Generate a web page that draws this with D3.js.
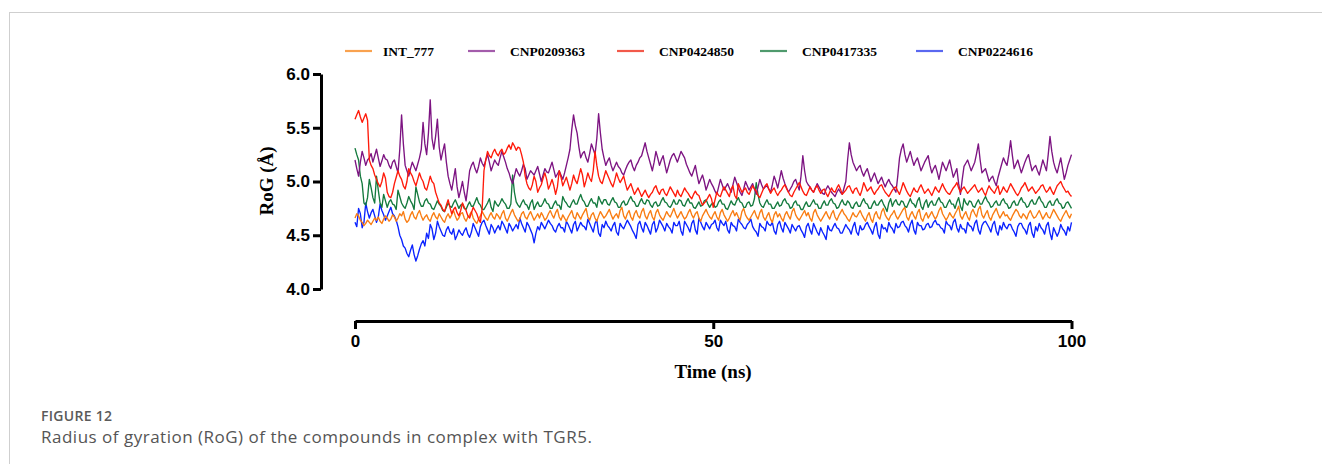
<!DOCTYPE html>
<html>
<head>
<meta charset="utf-8">
<script src="https://cdn.jsdelivr.net/npm/d3@7"></script>
<style>
  html, body { margin: 0; padding: 0; background: #fff; }
  svg { display: block; }
</style>
</head>
<body>
<svg id="chart" width="1322" height="464"></svg>
<script>
// Time axis: one frame every 0.25 ns from 0 to 100 ns
const timeStep = 0.25;
const timeTicks = [0, 50, 100];
const rogTicks = [4.0, 4.5, 5.0, 5.5, 6.0];
const seriesNames = ["INT_777", "CNP0209363", "CNP0424850", "CNP0417335", "CNP0224616"];

// Radius of gyration (Å) per frame, 20 frames (5 ns) per row
const int777 = [
  4.66,4.70,4.68,4.64,4.62,4.59,4.61,4.64,4.62,4.60,4.63,4.66,4.64,4.67,4.63,4.61,4.65,4.68,4.66,4.63,
  4.65,4.69,4.67,4.63,4.66,4.70,4.68,4.72,4.65,4.62,4.64,4.69,4.72,4.67,4.65,4.70,4.73,4.68,4.64,4.67,
  4.69,4.65,4.63,4.68,4.71,4.67,4.65,4.70,4.67,4.64,4.62,4.67,4.70,4.66,4.69,4.73,4.68,4.64,4.66,4.70,
  4.71,4.66,4.63,4.67,4.69,4.72,4.66,4.63,4.61,4.65,4.68,4.72,4.69,4.66,4.64,4.68,4.71,4.67,4.65,4.70,
  4.68,4.65,4.70,4.73,4.66,4.63,4.67,4.71,4.74,4.69,4.66,4.63,4.65,4.70,4.72,4.67,4.65,4.69,4.72,4.68,
  4.64,4.67,4.70,4.66,4.71,4.68,4.64,4.66,4.70,4.73,4.69,4.66,4.71,4.74,4.67,4.64,4.69,4.66,4.63,4.67,
  4.70,4.73,4.67,4.65,4.71,4.68,4.65,4.69,4.72,4.75,4.67,4.64,4.69,4.71,4.66,4.63,4.68,4.72,4.69,4.66,
  4.68,4.71,4.74,4.69,4.65,4.68,4.70,4.66,4.73,4.76,4.68,4.65,4.70,4.73,4.67,4.64,4.70,4.73,4.68,4.66,
  4.72,4.75,4.68,4.65,4.70,4.73,4.67,4.64,4.71,4.74,4.69,4.66,4.64,4.68,4.72,4.69,4.67,4.71,4.75,4.70,
  4.66,4.69,4.72,4.68,4.65,4.67,4.71,4.74,4.69,4.66,4.70,4.72,4.66,4.63,4.68,4.71,4.74,4.70,4.67,4.65,
  4.69,4.72,4.67,4.64,4.71,4.74,4.69,4.66,4.63,4.66,4.70,4.73,4.68,4.71,4.67,4.64,4.72,4.75,4.69,4.66,
  4.64,4.67,4.70,4.73,4.68,4.65,4.71,4.74,4.67,4.64,4.68,4.71,4.65,4.62,4.69,4.72,4.67,4.70,4.66,4.63,
  4.69,4.72,4.68,4.65,4.72,4.75,4.69,4.66,4.64,4.67,4.70,4.73,4.68,4.71,4.66,4.63,4.71,4.74,4.69,4.66,
  4.63,4.66,4.69,4.72,4.68,4.65,4.70,4.73,4.67,4.64,4.68,4.71,4.74,4.70,4.68,4.65,4.63,4.67,4.71,4.68,
  4.67,4.70,4.73,4.69,4.66,4.63,4.68,4.71,4.65,4.62,4.69,4.72,4.67,4.65,4.72,4.75,4.69,4.66,4.64,4.68,
  4.70,4.73,4.68,4.65,4.68,4.71,4.74,4.76,4.67,4.64,4.69,4.72,4.68,4.65,4.71,4.74,4.66,4.63,4.68,4.71,
  4.66,4.69,4.72,4.68,4.65,4.68,4.73,4.76,4.70,4.67,4.64,4.67,4.71,4.68,4.66,4.70,4.73,4.77,4.68,4.65,
  4.69,4.72,4.67,4.64,4.71,4.74,4.70,4.67,4.74,4.77,4.69,4.66,4.70,4.73,4.67,4.64,4.69,4.72,4.75,4.70,
  4.66,4.69,4.72,4.68,4.69,4.66,4.64,4.68,4.71,4.74,4.72,4.68,4.66,4.70,4.68,4.65,4.70,4.73,4.69,4.66,
  4.67,4.70,4.73,4.69,4.65,4.68,4.71,4.67,4.66,4.70,4.74,4.71,4.68,4.65,4.63,4.67,4.70,4.73,4.69,4.66,
  4.70
];

const cnp0209363 = [
  5.20,5.12,5.05,5.18,5.28,5.22,5.15,5.20,5.22,5.26,5.18,5.24,5.30,5.22,5.14,5.19,5.25,5.21,5.20,5.15,
  5.12,5.18,5.20,5.14,5.08,5.30,5.62,5.35,5.15,5.10,5.05,5.12,5.18,5.14,5.10,5.16,5.22,5.30,5.55,5.35,
  5.25,5.45,5.76,5.40,5.30,5.42,5.58,5.32,5.20,5.28,5.35,5.18,5.05,4.98,4.92,5.02,5.12,4.95,4.85,4.92,
  5.00,4.90,4.82,4.95,5.10,5.15,5.18,5.12,5.08,5.14,5.22,5.17,5.14,5.20,5.25,5.18,5.10,5.15,5.20,5.17,
  5.15,5.22,5.28,5.23,5.18,5.12,5.08,5.02,4.98,5.05,5.12,5.08,5.05,5.10,5.16,5.12,5.02,5.06,5.10,5.08,
  5.06,5.10,5.14,5.07,5.00,5.06,5.12,5.09,5.08,5.13,5.18,5.11,5.04,5.07,5.10,5.06,5.02,5.08,5.15,5.22,
  5.30,5.48,5.62,5.52,5.45,5.32,5.22,5.26,5.28,5.22,5.18,5.26,5.35,5.30,5.25,5.40,5.63,5.45,5.30,5.22,
  5.15,5.19,5.22,5.15,5.10,5.14,5.18,5.14,5.12,5.08,5.06,5.11,5.15,5.18,5.20,5.14,5.10,5.15,5.18,5.22,
  5.24,5.30,5.36,5.28,5.22,5.16,5.10,5.18,5.28,5.22,5.15,5.20,5.24,5.16,5.08,5.14,5.20,5.24,5.26,5.22,
  5.18,5.23,5.28,5.25,5.22,5.16,5.12,5.08,5.05,5.10,5.15,5.06,4.98,5.02,5.06,5.00,4.92,4.97,5.02,4.98,
  4.95,4.91,4.88,4.95,5.02,4.97,4.92,4.95,4.98,4.94,4.90,4.97,5.04,4.99,4.94,4.90,4.87,4.93,5.00,4.96,
  4.92,4.95,4.98,4.93,4.88,4.95,5.02,4.97,4.93,4.95,4.96,4.93,4.90,4.97,5.05,5.00,4.94,5.02,5.10,5.03,
  4.98,4.94,4.90,4.93,4.96,5.00,5.02,4.97,4.92,5.05,5.24,5.10,5.00,4.97,4.95,4.92,4.90,4.94,4.98,4.95,
  4.92,4.89,4.88,4.93,4.96,4.93,4.90,4.88,4.86,4.90,4.93,4.90,4.88,4.94,5.00,5.20,5.36,5.25,5.18,5.14,
  5.10,5.13,5.15,5.09,5.05,5.09,5.12,5.06,5.00,5.04,5.08,5.03,4.98,5.01,5.04,4.99,4.95,4.99,5.02,4.98,
  4.96,4.93,4.90,5.05,5.22,5.30,5.35,5.25,5.18,5.23,5.28,5.21,5.15,5.19,5.22,5.16,5.10,5.14,5.18,5.21,
  5.24,5.15,5.08,5.12,5.15,5.09,5.02,5.10,5.18,5.14,5.10,5.15,5.20,5.12,5.04,5.08,5.12,4.98,4.88,5.02,
  5.14,5.17,5.20,5.15,5.10,5.14,5.18,5.26,5.35,5.20,5.08,5.10,5.12,5.06,5.00,5.03,5.05,5.00,4.96,5.04,
  5.10,5.16,5.22,5.18,5.15,5.25,5.38,5.24,5.12,5.16,5.20,5.14,5.08,5.13,5.18,5.22,5.25,5.17,5.10,5.13,
  5.15,5.10,5.06,5.13,5.20,5.15,5.10,5.25,5.42,5.28,5.18,5.12,5.08,5.15,5.22,5.12,5.02,5.08,5.15,5.20,
  5.25
];

const cnp0424850 = [
  5.58,5.62,5.66,5.60,5.55,5.59,5.63,5.57,5.20,5.15,5.12,5.06,5.02,4.98,4.95,5.00,5.08,5.03,4.90,4.86,
  4.85,4.90,4.98,5.04,5.10,5.05,5.02,4.96,4.93,5.00,5.12,5.08,5.05,5.00,4.96,5.02,5.08,5.03,5.00,4.94,
  4.92,4.98,5.05,5.00,4.98,4.90,4.85,4.80,4.78,4.74,4.72,4.78,4.83,4.76,4.70,4.74,4.76,4.71,4.68,4.73,
  4.80,4.76,4.73,4.68,4.66,4.71,4.76,4.73,4.70,4.65,4.62,4.75,5.10,5.20,5.28,5.24,5.22,5.27,5.30,5.26,
  5.24,5.28,5.30,5.25,5.27,5.31,5.34,5.30,5.36,5.33,5.29,5.32,5.31,5.25,5.18,5.05,4.98,4.94,4.92,4.97,
  5.05,5.00,4.90,4.94,4.97,5.03,5.08,5.02,4.93,4.97,5.02,4.96,4.88,4.95,5.10,5.04,4.96,5.00,5.04,4.98,
  4.92,4.98,5.06,5.01,4.98,5.05,5.12,5.06,4.95,5.01,5.08,5.03,5.00,5.10,5.28,5.15,5.05,5.00,4.98,5.04,
  5.10,5.06,5.02,4.98,4.95,5.01,5.08,5.03,4.99,5.02,5.05,4.98,4.92,4.95,4.98,4.93,4.88,4.91,4.94,4.90,
  4.86,4.89,4.92,4.88,4.85,4.88,4.90,4.94,4.96,4.91,4.88,4.92,4.93,4.89,4.87,4.91,4.95,4.92,4.89,4.86,
  4.92,4.88,4.86,4.90,4.94,4.91,4.89,4.86,4.84,4.88,4.91,4.88,4.87,4.82,4.78,4.80,4.82,4.85,4.88,4.84,
  4.76,4.83,4.90,4.87,4.86,4.91,4.95,4.92,4.89,4.86,4.93,4.96,4.87,4.84,4.98,4.94,4.90,4.92,4.94,4.90,
  4.88,4.92,4.96,4.93,4.91,4.87,4.85,4.89,4.93,4.96,4.98,4.93,4.89,4.92,4.94,4.90,4.87,4.90,4.92,4.95,
  4.97,4.93,4.90,4.87,4.86,4.90,4.93,4.96,4.99,4.95,4.91,4.88,4.87,4.91,4.95,4.92,4.90,4.94,4.96,4.92,
  4.89,4.92,4.93,4.89,4.86,4.90,4.94,4.91,4.90,4.94,4.97,4.93,4.88,4.90,4.92,4.95,4.96,4.92,4.89,4.93,
  4.94,4.90,4.87,4.92,4.99,4.95,4.91,4.93,4.95,4.91,4.88,4.91,4.93,4.96,4.97,4.93,4.90,4.88,4.86,4.89,
  4.92,4.94,4.95,4.91,4.88,4.93,4.99,4.95,4.91,4.88,4.86,4.90,4.94,4.91,4.90,4.94,4.97,4.93,4.89,4.91,
  4.93,4.90,4.87,4.91,4.95,4.92,4.90,4.94,4.98,4.94,4.91,4.89,4.88,4.91,4.94,4.96,4.99,4.94,4.90,4.93,
  4.95,4.92,4.89,4.91,4.93,4.95,4.97,4.93,4.90,4.92,4.94,4.90,4.87,4.92,4.96,4.93,4.91,4.89,4.93,4.96,
  4.88,4.91,4.95,4.92,4.90,4.94,4.98,4.95,4.92,4.89,4.87,4.90,4.94,4.96,4.99,4.95,4.91,4.93,4.95,4.92,
  4.89,4.91,4.93,4.96,4.97,4.93,4.90,4.92,4.95,4.91,4.88,4.92,4.96,4.98,5.00,4.96,4.93,4.90,4.91,4.88,
  4.86
];

const cnp0417335 = [
  5.31,5.25,5.20,5.05,4.98,4.80,4.78,4.85,5.02,4.94,4.85,4.80,5.05,4.92,4.80,4.76,4.88,4.82,4.76,4.81,
  4.83,4.79,4.78,4.74,4.92,4.86,4.80,4.77,4.75,4.80,4.86,4.82,4.79,4.74,4.95,4.88,4.81,4.77,4.77,4.82,
  4.84,4.80,4.79,4.75,4.74,4.78,4.82,4.79,4.77,4.73,4.72,4.76,4.80,4.77,4.76,4.80,4.83,4.79,4.75,4.78,
  4.79,4.75,4.74,4.78,4.81,4.77,4.77,4.81,4.85,4.80,4.78,4.74,4.74,4.77,4.80,4.84,4.76,4.72,4.82,4.79,
  4.77,4.80,4.84,4.81,4.79,4.75,4.75,4.79,5.06,4.90,4.81,4.78,4.76,4.80,4.83,4.79,4.78,4.74,4.80,4.83,
  4.74,4.78,4.81,4.77,4.77,4.80,4.84,4.80,4.79,4.75,4.75,4.79,4.82,4.78,4.78,4.74,4.86,4.82,4.80,4.77,
  4.76,4.80,4.83,4.79,4.79,4.84,4.88,4.83,4.81,4.77,4.77,4.81,4.84,4.80,4.80,4.76,4.86,4.82,4.79,4.83,
  4.83,4.79,4.78,4.82,4.85,4.81,4.80,4.76,4.76,4.80,4.82,4.78,4.79,4.83,4.86,4.82,4.81,4.77,4.77,4.81,
  4.84,4.80,4.79,4.83,4.82,4.78,4.76,4.80,4.81,4.77,4.78,4.82,4.85,4.81,4.80,4.77,4.76,4.79,4.83,4.79,
  4.79,4.83,4.82,4.78,4.77,4.81,4.84,4.80,4.80,4.76,4.75,4.78,4.81,4.77,4.78,4.82,4.83,4.79,4.76,4.79,
  4.80,4.76,4.77,4.81,4.83,4.79,4.79,4.75,4.74,4.78,4.82,4.79,4.78,4.82,4.85,4.81,4.80,4.76,4.76,4.80,
  4.81,4.77,4.78,4.84,4.99,4.88,4.80,4.77,4.76,4.80,4.83,4.79,4.79,4.75,4.75,4.78,4.81,4.77,4.78,4.82,
  4.84,4.80,4.79,4.75,4.76,4.80,4.82,4.78,4.78,4.74,4.74,4.78,4.81,4.77,4.77,4.80,4.83,4.79,4.79,4.75,
  4.75,4.79,4.82,4.78,4.78,4.82,4.84,4.80,4.79,4.75,4.76,4.80,4.83,4.79,4.78,4.82,4.80,4.76,4.75,4.79,
  4.81,4.77,4.77,4.81,4.84,4.80,4.79,4.75,4.75,4.79,4.82,4.78,4.78,4.81,4.83,4.79,4.76,4.72,4.80,4.84,
  4.77,4.81,4.83,4.79,4.78,4.82,4.81,4.77,4.76,4.80,4.84,4.80,4.79,4.76,4.82,4.85,4.77,4.74,4.80,4.83,
  4.76,4.80,4.82,4.78,4.78,4.82,4.85,4.81,4.80,4.76,4.76,4.80,4.83,4.79,4.79,4.75,4.81,4.85,4.77,4.73,
  4.84,4.80,4.78,4.82,4.81,4.77,4.76,4.80,4.83,4.79,4.79,4.83,4.86,4.82,4.80,4.76,4.77,4.80,4.82,4.78,
  4.78,4.82,4.84,4.80,4.79,4.75,4.76,4.80,4.82,4.78,4.78,4.82,4.85,4.81,4.80,4.76,4.77,4.81,4.83,4.79,
  4.79,4.83,4.86,4.82,4.80,4.76,4.76,4.80,4.82,4.78,4.78,4.82,4.84,4.80,4.79,4.75,4.76,4.80,4.81,4.78,
  4.75
];

const cnp0224616 = [
  4.62,4.58,4.75,4.70,4.57,4.62,4.80,4.72,4.66,4.71,4.74,4.68,4.62,4.67,4.79,4.73,4.69,4.64,4.68,4.72,
  4.76,4.70,4.68,4.64,4.58,4.50,4.46,4.40,4.38,4.33,4.30,4.36,4.41,4.32,4.26,4.31,4.37,4.42,4.45,4.40,
  4.52,4.47,4.60,4.56,4.46,4.52,4.63,4.58,4.54,4.50,4.49,4.55,4.58,4.53,4.51,4.56,4.46,4.50,4.55,4.52,
  4.50,4.54,4.57,4.51,4.48,4.53,4.61,4.57,4.53,4.49,4.58,4.62,4.64,4.59,4.55,4.51,4.60,4.57,4.52,4.56,
  4.59,4.55,4.63,4.60,4.56,4.52,4.61,4.58,4.54,4.57,4.60,4.56,4.66,4.61,4.57,4.53,4.62,4.59,4.55,4.51,
  4.43,4.52,4.58,4.55,4.62,4.59,4.56,4.60,4.64,4.61,4.59,4.55,4.53,4.58,4.61,4.57,4.57,4.53,4.63,4.60,
  4.56,4.52,4.60,4.63,4.54,4.58,4.62,4.59,4.58,4.55,4.65,4.61,4.57,4.53,4.61,4.64,4.52,4.49,4.60,4.57,
  4.63,4.59,4.57,4.54,4.59,4.62,4.53,4.50,4.61,4.58,4.56,4.60,4.64,4.61,4.58,4.54,4.51,4.47,4.60,4.63,
  4.57,4.53,4.62,4.59,4.55,4.51,4.60,4.63,4.53,4.57,4.64,4.61,4.58,4.54,4.61,4.58,4.56,4.52,4.62,4.59,
  4.59,4.63,4.54,4.50,4.63,4.60,4.57,4.53,4.61,4.64,4.55,4.51,4.66,4.62,4.58,4.55,4.62,4.59,4.56,4.60,
  4.61,4.64,4.57,4.54,4.64,4.61,4.59,4.63,4.55,4.52,4.62,4.59,4.58,4.54,4.65,4.62,4.60,4.57,4.56,4.60,
  4.62,4.65,4.58,4.55,4.53,4.49,4.61,4.58,4.57,4.54,4.63,4.60,4.59,4.62,4.54,4.51,4.60,4.63,4.57,4.53,
  4.62,4.59,4.56,4.52,4.60,4.57,4.54,4.58,4.59,4.55,4.52,4.48,4.58,4.61,4.55,4.51,4.61,4.57,4.53,4.50,
  4.57,4.53,4.50,4.46,4.59,4.55,4.54,4.58,4.61,4.57,4.56,4.52,4.52,4.56,4.60,4.57,4.55,4.51,4.58,4.62,
  4.53,4.50,4.59,4.55,4.56,4.60,4.62,4.58,4.55,4.51,4.58,4.62,4.51,4.47,4.60,4.56,4.57,4.53,4.62,4.58,
  4.56,4.52,4.61,4.57,4.58,4.62,4.63,4.59,4.57,4.53,4.60,4.64,4.55,4.51,4.62,4.59,4.59,4.55,4.56,4.60,
  4.61,4.57,4.58,4.62,4.64,4.60,4.60,4.57,4.56,4.52,4.63,4.60,4.59,4.55,4.62,4.65,4.57,4.53,4.60,4.56,
  4.56,4.52,4.62,4.59,4.58,4.54,4.61,4.64,4.55,4.51,4.59,4.62,4.63,4.60,4.57,4.53,4.60,4.63,4.54,4.50,
  4.59,4.55,4.62,4.58,4.56,4.60,4.60,4.56,4.53,4.49,4.58,4.61,4.61,4.57,4.55,4.51,4.59,4.62,4.52,4.48,
  4.58,4.54,4.61,4.57,4.55,4.51,4.59,4.62,4.52,4.46,4.57,4.53,4.49,4.53,4.60,4.56,4.54,4.50,4.58,4.54,
  4.62
];

const lineColors = ["#f97c12", "#7d1482", "#ff1a0a", "#147a3e", "#0a22ff"];
const legendColors = ["#f9a24f", "#a35cab", "#f2594a", "#4f9a6d", "#5a68f0"];
const seriesValues = [int777, cnp0209363, cnp0424850, cnp0417335, cnp0224616];

const svg = d3.select("#chart");

// Panel frame (top and left rules)
svg.append("line").attr("x1", 9).attr("x2", 1322).attr("y1", 12.5).attr("y2", 12.5)
  .attr("stroke", "#cfcfcf").attr("stroke-width", 1);
svg.append("line").attr("x1", 9.5).attr("x2", 9.5).attr("y1", 12).attr("y2", 464)
  .attr("stroke", "#cfcfcf").attr("stroke-width", 1);

const x = d3.scaleLinear().domain([0, 100]).range([355, 1071.5]);
const y = d3.scaleLinear().domain([4, 6]).range([289, 74]);

// Traces, drawn back to front
const drawOrder = [4, 0, 3, 1, 2];
const line = d3.line()
  .x((d, i) => x(i * timeStep))
  .y(d => y(d));

const traces = svg.append("g").attr("fill", "none");
drawOrder.forEach(k => {
  traces.append("path")
    .datum(seriesValues[k])
    .attr("d", line)
    .attr("stroke", lineColors[k])
    .attr("stroke-width", 1.35)
    .attr("stroke-linejoin", "round");
});

// Y axis
const yAxis = svg.append("g")
  .attr("transform", "translate(321,0)")
  .call(d3.axisLeft(y).tickValues(rogTicks).tickFormat(d3.format(".1f"))
    .tickSize(8).tickSizeOuter(0).tickPadding(3));

// X axis, offset below the plot
const xAxis = svg.append("g")
  .attr("transform", "translate(0,321)")
  .call(d3.axisBottom(x).tickValues(timeTicks).tickFormat(d3.format("d"))
    .tickSize(8).tickSizeOuter(0).tickPadding(6));

[yAxis, xAxis].forEach(g => {
  g.select(".domain").attr("stroke", "#000").attr("stroke-width", 3);
  g.selectAll(".tick line").attr("stroke", "#000").attr("stroke-width", 3);
  g.selectAll(".tick text")
    .attr("fill", "#000")
    .style("font-family", "'Liberation Sans', Arial, sans-serif")
    .style("font-weight", "bold")
    .style("font-size", "17px");
});

// Axis titles
svg.append("text")
  .attr("x", 713).attr("y", 378)
  .attr("text-anchor", "middle")
  .style("font-family", "'Liberation Serif', 'Times New Roman', serif")
  .style("font-weight", "bold").style("font-size", "19px")
  .text("Time (ns)");

svg.append("text")
  .attr("transform", "translate(273,181) rotate(-90)")
  .attr("text-anchor", "middle")
  .style("font-family", "'Liberation Serif', 'Times New Roman', serif")
  .style("font-weight", "bold").style("font-size", "19px")
  .text("RoG (Å)");

// Legend
const legendSwatchX = [345, 468, 617, 760, 916];
const legend = svg.append("g");
seriesNames.forEach((name, k) => {
  const lx = legendSwatchX[k];
  legend.append("line")
    .attr("x1", lx).attr("x2", lx + 27).attr("y1", 51).attr("y2", 51)
    .attr("stroke", legendColors[k]).attr("stroke-width", 2.2);
  legend.append("text")
    .attr("x", lx + (k === 0 ? 38 : 42)).attr("y", 55.5)
    .style("font-family", "'Liberation Serif', 'Times New Roman', serif")
    .style("font-weight", "bold").style("font-size", "13.5px")
    .text(name);
});

// Figure caption
svg.append("text")
  .attr("x", 41).attr("y", 421)
  .attr("fill", "#5a5a5a")
  .style("font-family", "'Open Sans', sans-serif")
  .style("font-weight", "600").style("font-size", "14px")
  .style("letter-spacing", "0.3px")
  .text("FIGURE 12");

svg.append("text")
  .attr("x", 41).attr("y", 443)
  .attr("fill", "#555")
  .style("font-family", "'Open Sans', sans-serif")
  .style("font-size", "17px")
  .style("letter-spacing", "0.5px")
  .text("Radius of gyration (RoG) of the compounds in complex with TGR5.");
</script>
</body>
</html>
